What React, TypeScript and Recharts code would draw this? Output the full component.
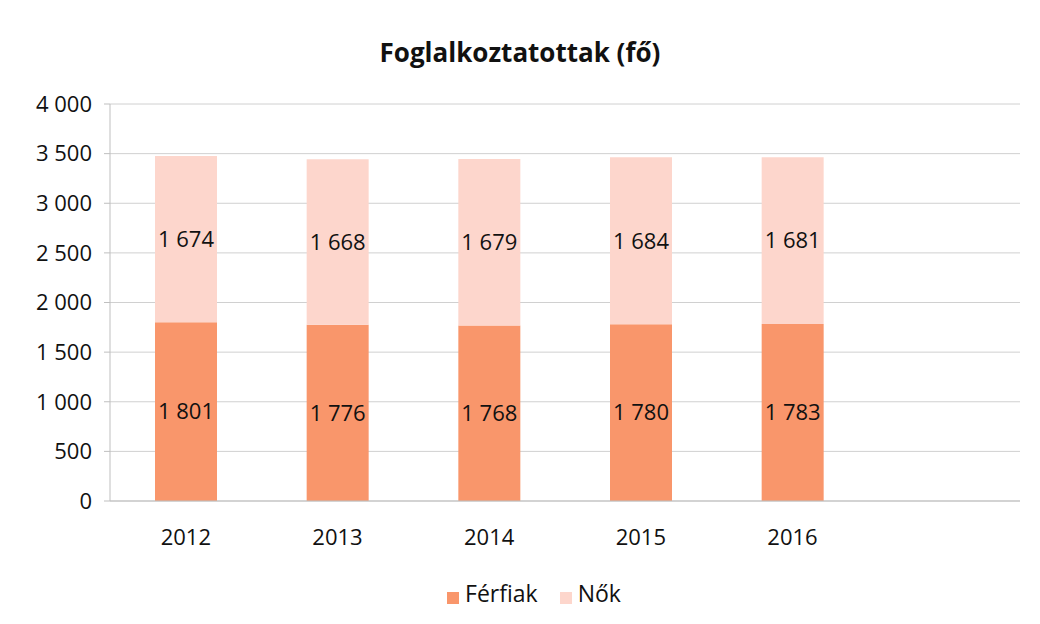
import { BarChart, Bar, XAxis, YAxis, CartesianGrid, Legend, LabelList } from "recharts";

const years = ["2012", "2013", "2014", "2015", "2016", ""];
const ferfiak = [1801, 1776, 1768, 1780, 1783, null];
const nok = [1674, 1668, 1679, 1684, 1681, null];
const yTicks = [0, 500, 1000, 1500, 2000, 2500, 3000, 3500, 4000];

const data = years.map((year, i) => ({ year, ferfiak: ferfiak[i], nok: nok[i] }));

const fmt = (v: any) =>
  v === null || v === undefined || v === "" ? "" : String(v).replace(/\B(?=(\d{3})+(?!\d))/g, " ");

const font = "'Open Sans', sans-serif";

export default function App() {
  return (
    <div style={{ position: "absolute", left: 0, top: 0, width: 1040, height: 624, background: "#fff", fontFamily: font }}>
      <div
        style={{
          position: "absolute",
          top: 34,
          left: 0,
          width: 1040,
          textAlign: "center",
          fontSize: 26,
          fontWeight: 700,
          color: "#111",
        }}
      >
        Foglalkoztatottak (fő)
      </div>
      <BarChart
        width={1040}
        height={624}
        data={data}
        margin={{ top: 104, right: 20, left: 10, bottom: 17 }}
        barSize={62}
      >
        <CartesianGrid vertical={false} stroke="#D0D0D0" />
        <XAxis
          dataKey="year"
          height={76}
          tickLine={false}
          axisLine={{ stroke: "#BFBFBF" }}
          tick={{ fill: "#111", fontSize: 22, fontFamily: font }}
          tickMargin={22}
          interval={0}
        />
        <YAxis
          width={100}
          domain={[0, 4000]}
          ticks={yTicks}
          tickFormatter={fmt}
          axisLine={{ stroke: "#BFBFBF" }}
          tickLine={{ stroke: "#BFBFBF" }}
          tickSize={6}
          tick={{ fill: "#111", fontSize: 22, fontFamily: font }}
          tickMargin={12}
        />
        <Legend
          verticalAlign="bottom"
          height={30}
          iconType="square"
          iconSize={12}
          wrapperStyle={{ paddingLeft: 30 }}
          formatter={(value: string) => (
            <span style={{ color: "#111", fontSize: 23, fontFamily: font, marginLeft: 2, marginRight: 12 }}>{value}</span>
          )}
        />
        <Bar dataKey="ferfiak" name="Férfiak" stackId="a" fill="#F9966B" isAnimationActive={false}>
          <LabelList dataKey="ferfiak" position="center" formatter={fmt} fill="#111" fontSize={22} fontFamily={font} />
        </Bar>
        <Bar dataKey="nok" name="Nők" stackId="a" fill="#FDD6CC" isAnimationActive={false}>
          <LabelList dataKey="nok" position="center" formatter={fmt} fill="#111" fontSize={22} fontFamily={font} />
        </Bar>
      </BarChart>
    </div>
  );
}
